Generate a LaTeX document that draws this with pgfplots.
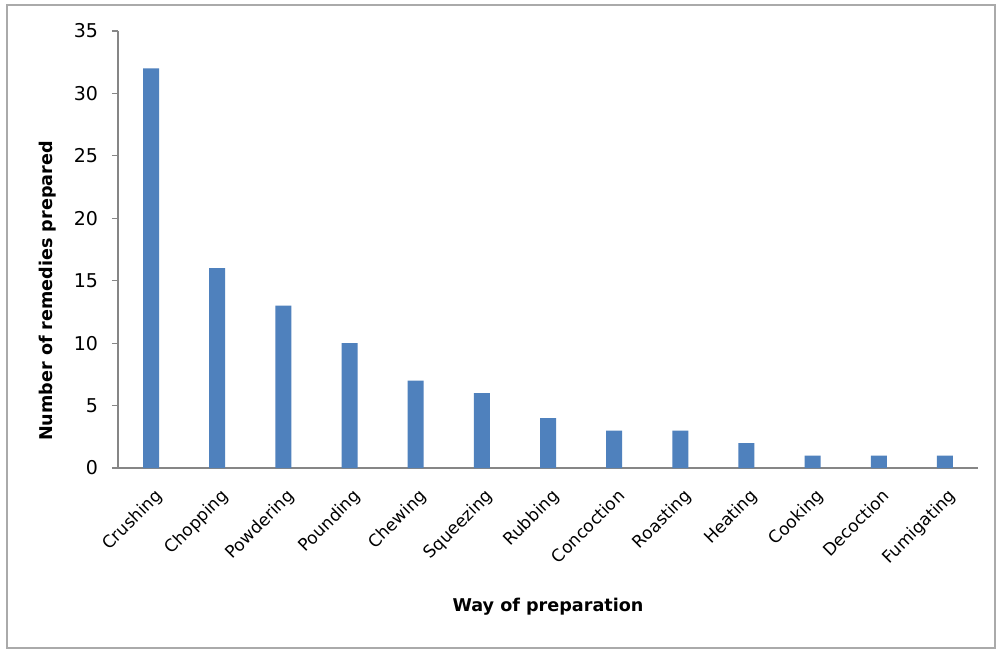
\documentclass[border=0pt]{standalone}
\usepackage{pgfplots}
\pgfplotsset{compat=1.18}
\usepackage{fontspec}
\setmainfont{DejaVu Sans}
\definecolor{barblue}{HTML}{4F81BD}
\definecolor{axgray}{HTML}{868686}
\begin{document}
\begin{tikzpicture}[x=1pt,y=1pt]
\path[fill=white] (0,0) rectangle (498.5,325);
\draw[color=axgray!70, line width=0.8pt] (3.5,1) rectangle (497.5,322.5);
\begin{axis}[
  at={(59pt,91pt)}, anchor=south west,
  scale only axis, width=430pt, height=218.5pt,
  xmin=-0.5, xmax=12.5, ymin=0, ymax=35,
  axis x line*=bottom, axis y line*=left,
  axis line style={axgray, line width=0.6pt},
  ytick={0,5,...,35},
  xtick=data,
  xticklabels={Crushing,Chopping,Powdering,Pounding,Chewing,Squeezing,Rubbing,Concoction,Roasting,Heating,Cooking,Decoction,Fumigating},
  x tick label style={rotate=45, anchor=north east, font=\fontsize{8.5}{10}\selectfont, inner sep=1pt, xshift=-2.9pt, yshift=-4.7pt},
  y tick label style={font=\fontsize{9.5}{11}\selectfont, xshift=-3.5pt},
  /pgf/number format/assume math mode=true,
  tick style={axgray, line width=0.6pt},
  major x tick style={draw=none},
  ytick align=outside, major tick length=3pt,
  ylabel={\bfseries Number of remedies prepared},
  ylabel style={font=\fontsize{8.8}{10}\selectfont, at={(axis description cs:-0.082,0.405)}, anchor=center},
  xlabel={\bfseries Way of preparation},
  xlabel style={font=\fontsize{8.8}{10}\selectfont, at={(axis description cs:0.5,-0.318)}, anchor=center},
  ybar, bar width=8pt,
  clip=false,
]
\addplot[fill=barblue, draw=none] coordinates {
(0,32) (1,16) (2,13) (3,10) (4,7) (5,6) (6,4) (7,3) (8,3) (9,2) (10,1) (11,1) (12,1)};
\end{axis}
\end{tikzpicture}
\end{document}
